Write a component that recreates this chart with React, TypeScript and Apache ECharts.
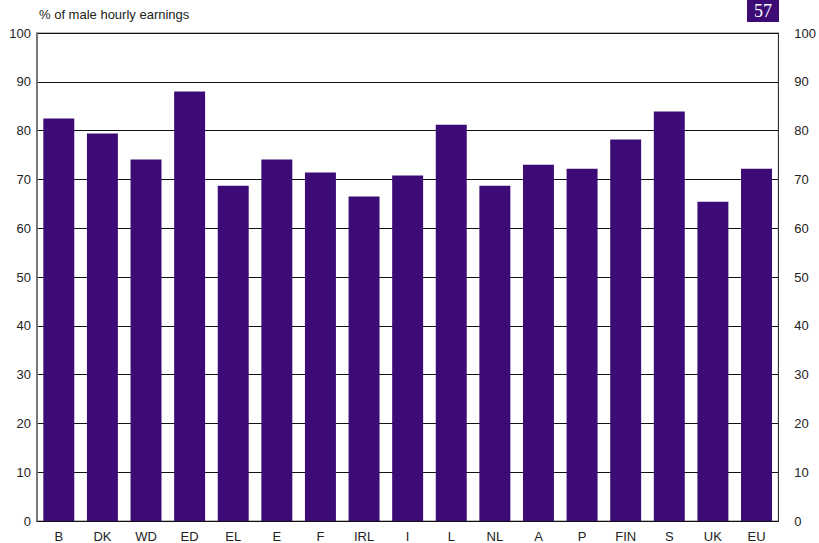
import React, { useEffect, useRef } from "react";
import * as echarts from "echarts";

const categories = ["B", "DK", "WD", "ED", "EL", "E", "F", "IRL", "I", "L", "NL", "A", "P", "FIN", "S", "UK", "EU"];
const values = [82.5, 79.4, 74.1, 88.0, 68.7, 74.1, 71.4, 66.5, 70.8, 81.2, 68.7, 73.0, 72.2, 78.2, 83.9, 65.4, 72.2];
const yTitle = "% of male hourly earnings";
const pageNumber = "57";

const BAR = "#3c0b76";
const FONT = "'Liberation Sans', Arial, sans-serif";

export default function App() {
  const ref = useRef<HTMLDivElement>(null);
  useEffect(() => {
    if (!ref.current) return;
    const chart = echarts.init(ref.current, null, { renderer: "svg" });
    const yAxisBase = {
      type: "value" as const,
      min: 0,
      max: 100,
      interval: 10,
      axisTick: { show: false },
      axisLabel: { fontFamily: FONT, fontSize: 13, color: "#222" },
    };
    chart.setOption({
      animation: false,
      backgroundColor: "#fff",
      grid: { left: 37, right: 40, top: 33, bottom: 22, show: true, borderColor: "#777", borderWidth: 1 },
      xAxis: {
        type: "category",
        data: categories,
        axisTick: { show: false },
        axisLine: { lineStyle: { color: "#111", width: 1 } },
        axisLabel: { fontFamily: FONT, fontSize: 13, color: "#222", margin: 9 },
      },
      yAxis: [
        {
          ...yAxisBase,
          position: "left",
          axisLine: { show: true, lineStyle: { color: "#777", width: 2 } },
          axisLabel: { ...yAxisBase.axisLabel, margin: 6 },
          splitLine: { show: true, lineStyle: { color: "#111", width: 1 } },
        },
        {
          ...yAxisBase,
          position: "right",
          axisLine: { show: true, lineStyle: { color: "#333", width: 1 } },
          axisLabel: { ...yAxisBase.axisLabel, margin: 16, align: "left" },
          splitLine: { show: false },
        },
      ],
      series: [
        {
          type: "bar",
          data: values,
          yAxisIndex: 0,
          barCategoryGap: "29%",
          itemStyle: { color: BAR },
          z: 3,
        },
      ],
      graphic: [
        {
          type: "text",
          left: 39,
          top: 8,
          style: { text: yTitle, fontFamily: FONT, fontSize: 13, fill: "#222" },
        },
        {
          type: "rect",
          shape: { x: 747, y: 0, width: 32, height: 22 },
          style: { fill: BAR },
        },
        {
          type: "text",
          x: 763,
          y: 11,
          style: {
            text: pageNumber,
            fontFamily: "'Liberation Serif', 'Times New Roman', serif",
            fontSize: 18,
            fill: "#fff",
            align: "center",
            verticalAlign: "middle",
          },
        },
      ],
    });
    return () => chart.dispose();
  }, []);
  return <div ref={ref} style={{ width: 819, height: 543, position: "absolute", left: 0, top: 0 }} />;
}
